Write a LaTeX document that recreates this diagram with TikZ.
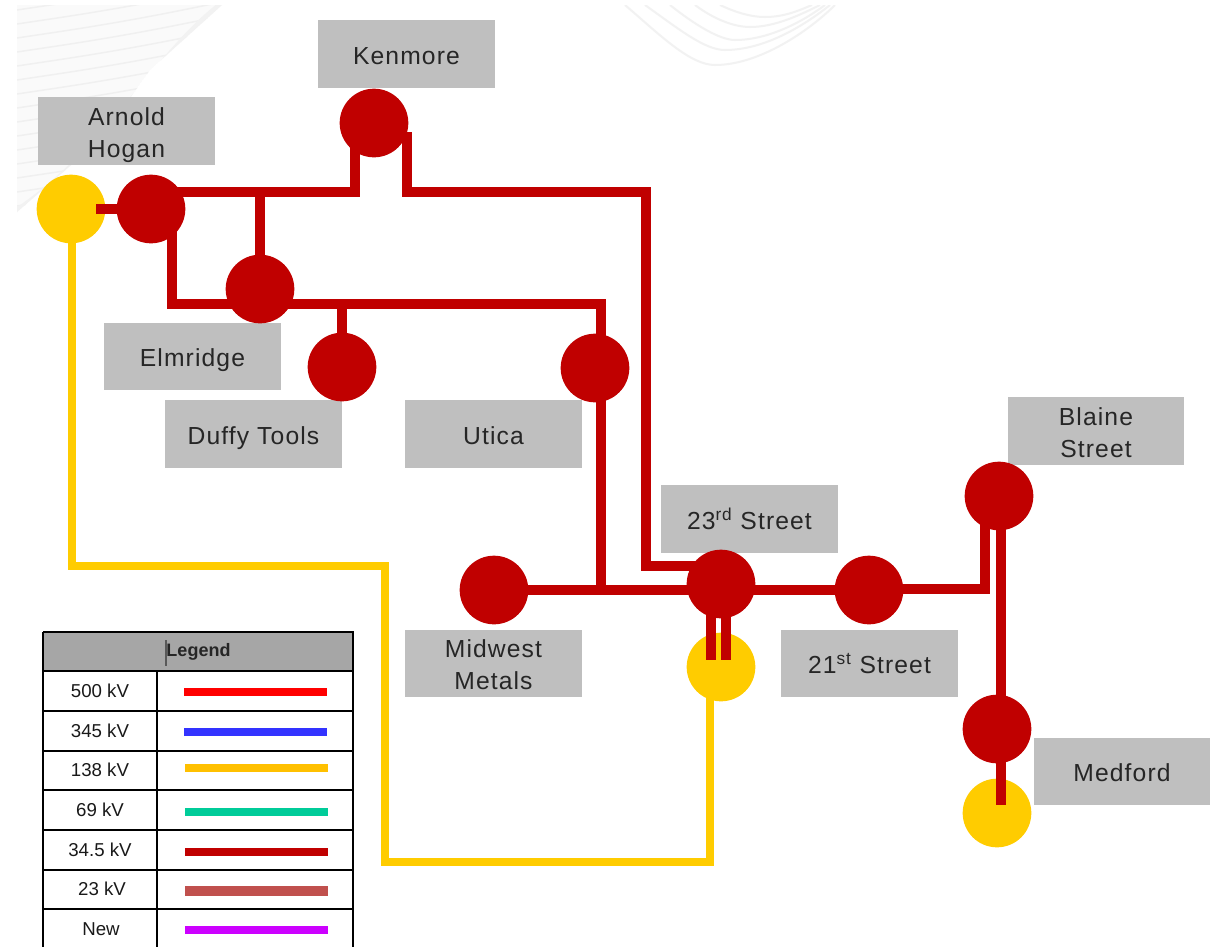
\documentclass[tikz,border=0pt]{standalone}
\usepackage{fontspec}
\setmainfont{Liberation Sans}
\newfontfamily\lblfont[LetterSpace=4.5]{Liberation Sans}
\newcommand{\tdrop}[1]{\rule{0pt}{#1pt}}
\definecolor{lblgray}{HTML}{BFBFBF}
\definecolor{hdrgray}{HTML}{A6A6A6}
\definecolor{subred}{HTML}{C00000}
\definecolor{subyel}{HTML}{FFCC00}
\tikzset{
  redsub/.style={circle,fill=subred,draw=none,minimum size=51.5pt,inner sep=0pt},
  yelsub/.style={circle,fill=subyel,draw=none,minimum size=51.5pt,inner sep=0pt},
  lbl/.style={fill=lblgray,draw=none,minimum width=132.5pt,minimum height=50.5pt,inner sep=0pt,
    align=center,font=\lblfont\fontsize{18.5}{24}\selectfont,text=black!85},
  redline/.style={draw=subred,line width=7pt,line join=miter},
  yelline/.style={draw=subyel,line width=6.2pt,line join=miter},
  wm/.style={draw=black!6,line width=1.1pt},
  wmr/.style={draw=black!5,line width=1.5pt},
  grid/.style={draw=black,line width=2pt},
  lgtxt/.style={font=\fontsize{14}{16}\selectfont,text=black!90,inner sep=0pt},
  swatch/.style={line width=5.5pt}
}
\begin{document}
\begin{tikzpicture}[x=0.75pt,y=-0.75pt]
\useasboundingbox (0,0) rectangle (1215,947);
\fill[white] (0,0) rectangle (1215,947);
% watermark, top left
\begin{scope}
\clip (17,5) -- (222,5) -- (150,70) -- (100,140) -- (17,212) -- cycle;
\fill[black!2] (17,5) -- (222,5) -- (150,70) -- (100,140) -- (17,212) -- cycle;
\foreach \y in {10,24,...,220}{
  \draw[wm] (17,\y) .. controls (70,\y-8) and (130,\y-16) .. (240,\y-40);
}
\draw[draw=black!5,line width=6pt] (225,3) .. controls (160,50) and (110,150) .. (17,212);
\end{scope}
% watermark, top right
\begin{scope}
\clip (620,5) rectangle (840,75);
\draw[wmr] (625,5) .. controls (660,35) and (690,65) .. (715,65) .. controls (760,65) and (810,30) .. (835,5);
\draw[wmr] (645,5) .. controls (680,30) and (705,50) .. (725,50) .. controls (765,50) and (805,25) .. (830,5);
\draw[wmr] (670,5) .. controls (695,25) and (720,40) .. (735,40) .. controls (770,40) and (805,20) .. (825,5);
\draw[wmr] (695,5) .. controls (715,20) and (735,27) .. (750,27) .. controls (775,27) and (800,15) .. (820,5);
\draw[wmr] (720,5) .. controls (735,12) and (750,17) .. (765,17) .. controls (785,17) and (800,10) .. (812,5);
\end{scope}
% labels
\node[lbl] (lKen) at (406.5,54) {\tdrop{16.4}Kenmore};
\node[lbl] (lArn) at (126.5,131) {\tdrop{19.4}Arnold\\Hogan};
\node[lbl] (lElm) at (192.5,356.5) {\tdrop{19.4}Elmridge};
\node[lbl] (lDuf) at (253.5,434) {\tdrop{19.4}Duffy Tools};
\node[lbl] (lUti) at (493.5,434) {\tdrop{15.6}Utica};
\node[lbl] (l23) at (749.5,519) {23\textsuperscript{rd} Street};
\node[lbl] (lMid) at (493.5,663.5) {\tdrop{14.9}Midwest\\Metals};
\node[lbl] (l21) at (869.5,663.5) {21\textsuperscript{st} Street};
\node[lbl] (lBla) at (1096,431) {\tdrop{16.4}Blaine\\Street};
\node[lbl] (lMed) at (1122,771.5) {\tdrop{14.9}Medford};
% yellow substations
\node[yelsub] (yArn) at (71,209) {};
\node[yelsub] (y23) at (721,667) {};
\node[yelsub] (yMed) at (997,813) {};
% junction points
\coordinate (j1) at (355,192);
\coordinate (j2) at (407,192);
\coordinate (j2t) at (407,132);
\coordinate (j3) at (646,192);
\coordinate (j4) at (646,566);
\coordinate (j5) at (172,304);
\coordinate (j6) at (601,304);
\coordinate (j7) at (985,589);
\coordinate (j8) at (260,192);
\coordinate (j9) at (342,304);
\coordinate (j10) at (601,590);
\coordinate (s1) at (711,660);
\coordinate (s2) at (726,660);
\coordinate (s3) at (1001,805);
\coordinate (y1) at (72,566);
\coordinate (y2) at (385,566);
\coordinate (y3) at (385,862);
\coordinate (y4) at (710,862);
% red substations
\node[redsub] (rArn) at (151,209) {};
\node[redsub] (rKen) at (374,123) {};
\node[redsub] (rElm) at (260,289) {};
\node[redsub] (rDuf) at (342,367) {};
\node[redsub] (rUti) at (595,368) {};
\node[redsub] (rMid) at (494,590) {};
\node[redsub] (r23) at (721,584) {};
\node[redsub] (r21) at (869,590) {};
\node[redsub] (rBla) at (999,496) {};
\node[redsub] (rMed) at (997,729) {};
% yellow line
\draw[yelline] (yArn.center -| y1) -- (y1) -- (y2) -- (y3) -- (y4) -- (y4 |- y23.center);
% red lines
\draw[redline] ([xshift=-41pt]rArn.center) -- (rArn.center);
\draw[redline] (rArn.center |- j1) -- (j1) -- (j1 |- rKen.center);
\draw[redline] (j2t) -- (j2) -- (j3) -- (j4) -- (j4 -| r23.center);
\draw[redline] (j8) -- (rElm.center);
\draw[redline] (j5 |- rArn.center) -- (j5) -- (j6) -- (j6 |- rUti.center);
\draw[redline] (j9) -- (rDuf.center);
\draw[redline] (j6 |- rUti.center) -- (j10);
\draw[redline] (rMid.center) -- (j10) -- (j10 -| r23.center);
\draw[redline] (r23.center |- r21.center) -- (r21.center);
\draw[redline] (r21.center |- j7) -- (j7) -- (j7 |- rBla.center);
\draw[redline] (s3 |- rBla.center) -- (s3);
\draw[redline] (s1 |- r23.center) -- (s1);
\draw[redline] (s2 |- r23.center) -- (s2);
% legend
\fill[hdrgray] (43,632) rectangle (353,671);
\draw[grid] (43,632) -- (353,632) -- (353,947) (43,632) -- (43,947);
\foreach \y in {671,711,751,790,830,870,909} \draw[grid] (43,\y) -- (353,\y);
\draw[grid] (157,671) -- (157,947);
\node[font=\bfseries\fontsize{13.5}{16}\selectfont,text=black!85,inner sep=0pt] (lgT) at (198.5,652) {Legend};
\draw[draw=black!65,line width=0.8pt] (166,640) -- (166,666);
\node[lgtxt] (t1) at (100,691) {500 kV};
\node[lgtxt] (t2) at (100,731) {345 kV};
\node[lgtxt] (t3) at (100,770) {138 kV};
\node[lgtxt] (t4) at (100,810) {69 kV};
\node[lgtxt] (t5) at (100,850) {34.5 kV};
\node[lgtxt] (t6) at (102,889) {23 kV};
\node[lgtxt] (t7) at (101,929) {New};
\draw[swatch,draw=red] (184,692) -- (327,692);
\draw[swatch,draw=blue!80] (184,732) -- (327,732);
\draw[swatch,draw={rgb,255:red,255;green,192;blue,0}] (185,768) -- (328,768);
\draw[swatch,draw={rgb,255:red,0;green,204;blue,153}] (185,812) -- (328,812);
\draw[swatch,draw=subred] (185,852) -- (328,852);
\draw[swatch,draw={rgb,255:red,192;green,80;blue,77},line width=7pt] (185,891) -- (328,891);
\draw[swatch,draw={rgb,255:red,204;green,0;blue,255}] (185,930) -- (328,930);
\end{tikzpicture}
\end{document}
